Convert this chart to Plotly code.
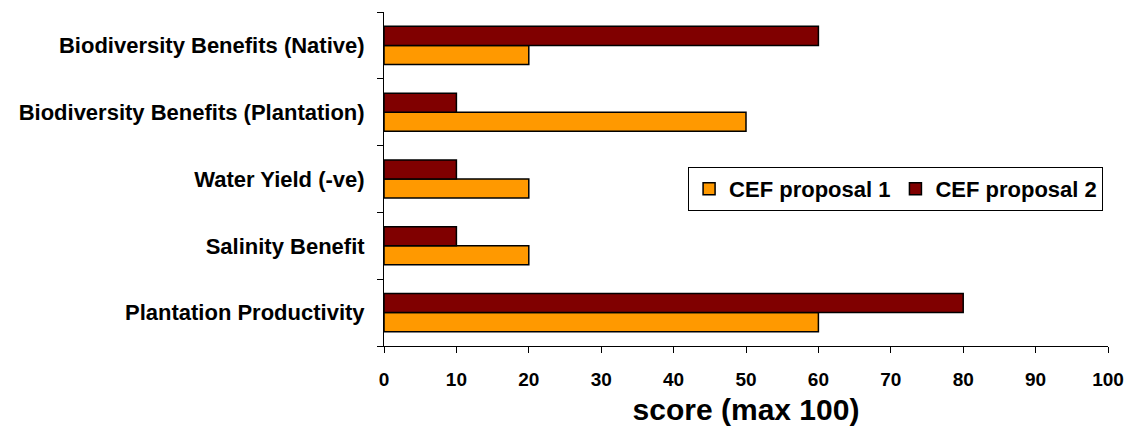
import plotly.graph_objects as go

categories = [
    "Plantation Productivity",
    "Salinity Benefit",
    "Water Yield (-ve)",
    "Biodiversity Benefits (Plantation)",
    "Biodiversity Benefits (Native)",
]
proposal_1 = [60, 20, 20, 50, 20]
proposal_2 = [80, 10, 10, 10, 60]
x_ticks = list(range(0, 101, 10))

FONT = "Liberation Sans, Arial, sans-serif"

fig = go.Figure()
fig.add_trace(go.Bar(
    y=categories, x=proposal_1, orientation="h", name="CEF proposal 1",
    marker=dict(color="#FF9900", line=dict(color="black", width=1.5)),
))
fig.add_trace(go.Bar(
    y=categories, x=proposal_2, orientation="h", name="CEF proposal 2",
    marker=dict(color="#800000", line=dict(color="black", width=1.5)),
))

fig.update_layout(
    width=1133, height=434,
    margin=dict(l=384, r=25, t=12, b=88),
    paper_bgcolor="white", plot_bgcolor="white",
    barmode="group", bargap=0.43, bargroupgap=0,
    font=dict(family=FONT, size=20, color="black", weight="bold"),
    showlegend=True,
    legend=dict(
        orientation="h", x=0.42, y=0.536, xanchor="left", yanchor="top",
        bordercolor="black", borderwidth=1, bgcolor="white",
        font=dict(size=22, family=FONT, weight="bold"),
        traceorder="normal",
    ),
    xaxis=dict(
        range=[0, 100], tickvals=x_ticks, ticks="outside", ticklen=6,
        tickcolor="black", showline=True, linecolor="black", linewidth=1,
        showgrid=False, zeroline=False, automargin=False,
        tickfont=dict(size=19, family=FONT, weight="bold"),
        ticklabelstandoff=10,
        title=dict(text="score (max 100)", standoff=10,
                   font=dict(size=30, family=FONT, weight="bold")),
    ),
    yaxis=dict(
        categoryorder="array", categoryarray=categories,
        ticks="outside", tickson="boundaries", ticklen=6, tickcolor="black",
        showline=True, linecolor="black", linewidth=1, showgrid=False,
        automargin=False,
        tickfont=dict(size=22, family=FONT, weight="bold"),
        ticklabelstandoff=14,
    ),
)

fig.write_html("out.html")
